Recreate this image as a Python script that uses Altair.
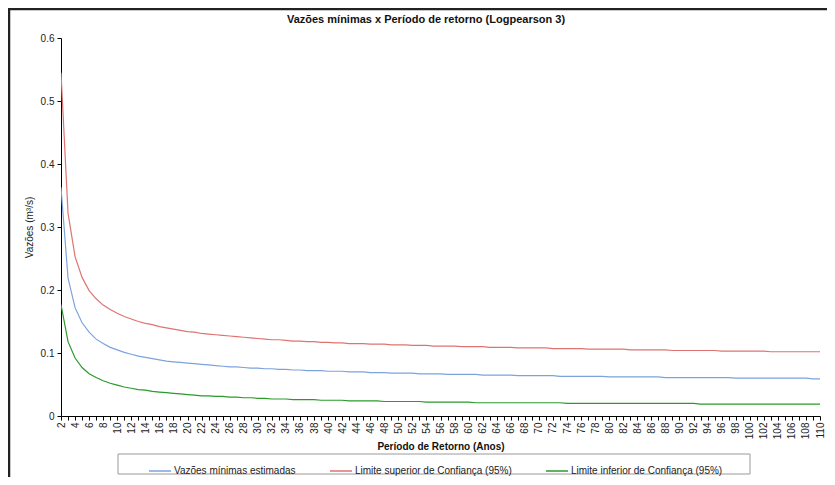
import altair as alt
import pandas as pd

periods = list(range(2, 111))

series_names = [
    "Vazões mínimas estimadas",
    "Limite superior de Confiança (95%)",
    "Limite inferior de Confiança (95%)",
]
series_colors = ["#7BA3DC", "#DE7472", "#2A9A2A"]

chart_title = "Vazões mínimas x Período de retorno (Logpearson 3)"

estimated = [
    .363, .219, .172, .148, .133, .122, .115, .109, .105,
    .101, .098, .095, .093, .091, .089, .087, .086, .085, .084,
    .083, .082, .081, .080, .079, .078, .078, .077, .076, .076,
    .075, .075, .074, .074, .073, .073, .072, .072, .072, .071,
    .071, .071, .070, .070, .070, .069, .069, .069, .068, .068,
    .068, .068, .067, .067, .067, .067, .066, .066, .066, .066,
    .066, .065, .065, .065, .065, .065, .064, .064, .064, .064,
    .064, .064, .063, .063, .063, .063, .063, .063, .063, .062,
    .062, .062, .062, .062, .062, .062, .062, .061, .061, .061,
    .061, .061, .061, .061, .061, .061, .061, .060, .060, .060,
    .060, .060, .060, .060, .060, .060, .060, .060, .059, .059,
]
upper = [
    .545, .322, .253, .220, .199, .186, .176, .169, .163,
    .158, .154, .150, .147, .145, .142, .140, .138, .136, .134,
    .133, .131, .130, .129, .128, .127, .126, .125, .124, .123,
    .122, .121, .121, .120, .119, .119, .118, .118, .117, .117,
    .116, .116, .115, .115, .115, .114, .114, .114, .113, .113,
    .113, .112, .112, .112, .111, .111, .111, .111, .110, .110,
    .110, .110, .109, .109, .109, .109, .108, .108, .108, .108,
    .108, .107, .107, .107, .107, .107, .106, .106, .106, .106,
    .106, .106, .105, .105, .105, .105, .105, .105, .104, .104,
    .104, .104, .104, .104, .104, .103, .103, .103, .103, .103,
    .103, .103, .102, .102, .102, .102, .102, .102, .102, .102,
]
lower = [
    .177, .118, .092, .077, .067, .061, .056, .052, .049,
    .046, .044, .042, .041, .039, .038, .037, .036, .035, .034,
    .033, .032, .032, .031, .031, .030, .030, .029, .029, .028,
    .028, .027, .027, .027, .026, .026, .026, .026, .025, .025,
    .025, .025, .024, .024, .024, .024, .024, .023, .023, .023,
    .023, .023, .023, .022, .022, .022, .022, .022, .022, .022,
    .021, .021, .021, .021, .021, .021, .021, .021, .021, .021,
    .021, .021, .021, .020, .020, .020, .020, .020, .020, .020,
    .020, .020, .020, .020, .020, .020, .020, .020, .020, .020,
    .020, .020, .019, .019, .019, .019, .019, .019, .019, .019,
    .019, .019, .019, .019, .019, .019, .019, .019, .019, .019,
]
assert len(estimated) == len(upper) == len(lower) == len(periods)

y_ticks = [0, 0.1, 0.2, 0.3, 0.4, 0.5, 0.6]

rows = []
for name, vals in zip(series_names, [estimated, upper, lower]):
    for t, v in zip(periods, vals):
        rows.append({"T": t, "Q": v, "serie": name})
df = pd.DataFrame(rows)

FONT = "Liberation Sans"
W, H = 759, 378

lines = alt.Chart(df).mark_line(strokeWidth=1.2, clip=True).encode(
    x=alt.X("T:Q",
            scale=alt.Scale(domain=[2, 110], nice=False, zero=False),
            axis=alt.Axis(title="Período de Retorno (Anos)", values=periods,
                          labelExpr="datum.value % 2 == 0 ? toString(datum.value) : ''",
                          labelAngle=-90, labelOverlap=False, labelFlush=False,
                          labelBound=False, tickSize=4, labelPadding=2,
                          titlePadding=3, titleFontWeight="bold", titleFontSize=10,
                          labelFontSize=10, domainColor="#000000", tickColor="#000000",
                          labelColor="#222222", titleColor="#111111", grid=False)),
    y=alt.Y("Q:Q",
            scale=alt.Scale(domain=[0, 0.6], nice=False),
            axis=alt.Axis(title="Vazões (m³/s)", values=y_ticks,
                          labelExpr="datum.value == 0 ? '0' : format(datum.value, '.1f')",
                          tickSize=4, labelPadding=3, titlePadding=6,
                          titleFontWeight="normal", titleFontSize=10,
                          labelFontSize=10, domainColor="#000000", tickColor="#000000",
                          labelColor="#222222", titleColor="#222222", grid=False)),
    color=alt.Color("serie:N",
                    scale=alt.Scale(domain=series_names, range=series_colors),
                    legend=alt.Legend(title=None, orient="none", direction="horizontal",
                                      legendX=87, legendY=421, symbolType="stroke",
                                      symbolSize=484, symbolStrokeWidth=1.5,
                                      labelFontSize=10, labelOffset=2,
                                      columnPadding=31, labelLimit=300,
                                      labelColor="#222222")),
)

one = alt.Data(values=[{"a": 1}])
legend_box = alt.Chart(one).mark_rect(fill="white", stroke="#9a9a9a", strokeWidth=1).encode(
    x=alt.value(57), x2=alt.value(689), y=alt.value(416), y2=alt.value(436))
frame_left = alt.Chart(one).mark_rule(color="#222222", strokeWidth=2.5).encode(
    x=alt.value(-52), y=alt.value(-30), y2=alt.value(H + 70))
frame_top = alt.Chart(one).mark_rule(color="#222222", strokeWidth=2.5).encode(
    x=alt.value(-53), x2=alt.value(W + 12), y=alt.value(-29))
title_text = alt.Chart(one).mark_text(fontSize=11, fontWeight="bold", font=FONT,
                                      color="#111111", baseline="middle",
                                      align="center").encode(
    x=alt.value(365), y=alt.value(-18), text=alt.value(chart_title))

chart = alt.layer(legend_box, frame_left, frame_top, title_text, lines).properties(
    width=W, height=H,
    autosize=alt.AutoSizeParams(type="none"),
    padding={"left": 53, "top": 30, "right": 7, "bottom": 61},
).configure(font=FONT).configure_view(stroke=None)

chart.save("out.html", embed_options={"renderer": "svg", "actions": False})
